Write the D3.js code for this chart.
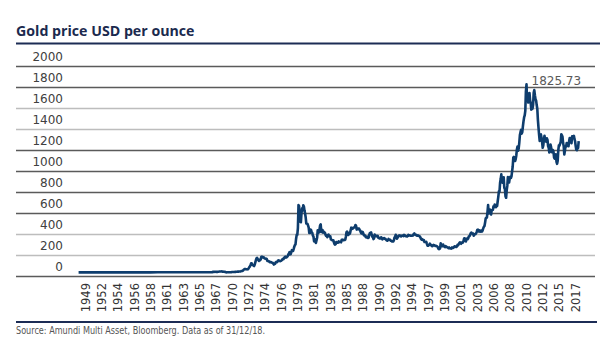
<!DOCTYPE html>
<html>
<head>
<meta charset="utf-8">
<script src="https://cdn.jsdelivr.net/npm/d3@7"></script>
<style>
  html, body { margin: 0; padding: 0; background: #fff; }
  svg { display: block; }
</style>
</head>
<body>
<svg id="chart" width="614" height="341"></svg>
<script>
// ---------------- DATA ----------------
const titleText = "Gold price USD per ounce";
const sourceText = "Source: Amundi Multi Asset, Bloomberg. Data as of 31/12/18.";

const yTickValues = [0, 200, 400, 600, 800, 1000, 1200, 1400, 1600, 1800, 2000];

const xTickLabels = ["1949","1952","1954","1956","1958","1961","1963","1965","1967","1970",
  "1972","1974","1976","1979","1981","1983","1985","1988","1990","1992","1994","1997",
  "1999","2001","2003","2006","2008","2010","2012","2015","2017"];

// Annual prices 1949-1967 (fixed-price era)
const annualYears = [1949,1950,1951,1952,1953,1954,1955,1956,1957,1958,1959,1960,1961,1962,1963,1964,1965,1966,1967];
const annualPrices = [34.8,35.0,35.0,35.0,35.0,35.0,35.0,35.0,35.0,35.0,35.0,35.5,35.3,35.2,35.1,35.1,35.2,35.2,35.2];

// Monthly prices, by period
const prices1968to1979 = [
  35.2,37.6,41.0,38.0,41.0,41.1,39.5,39.2,40.0,39.2,40.5,41.1,
  42.3,42.6,43.5,43.3,43.6,41.3,42.0,41.0,40.9,40.4,37.4,35.2,
  34.9,35.0,35.1,35.6,35.9,35.4,35.3,35.4,36.2,37.5,37.4,37.4,
  37.9,38.7,38.9,39.0,40.5,40.1,41.0,42.7,42.0,42.5,42.9,43.5,
  45.8,48.3,48.3,49.0,54.6,62.1,65.7,67.0,65.5,64.9,62.9,63.9,
  65.1,74.2,84.4,90.5,102.0,120.1,120.2,106.8,103.0,100.1,94.8,106.7,
  129.2,150.2,168.4,172.2,163.3,154.1,143.0,154.6,151.8,158.8,181.7,183.9,
  176.3,179.6,178.0,170.0,167.0,164.2,165.2,163.0,144.1,142.8,142.8,139.3,
  131.4,130.9,132.7,128.0,127.0,125.7,117.8,109.3,114.0,116.0,130.3,133.8,
  132.3,136.4,148.4,149.3,146.6,141.1,143.4,144.8,149.2,158.6,162.3,160.5,
  173.2,178.2,183.7,175.3,176.3,183.7,188.7,206.2,212.4,227.2,206.1,207.8,
  227.3,245.7,242.0,239.2,257.6,279.1,294.7,300.8,355.1,391.7,392.5,455.1
];
const prices1980to1989 = [
  675,665,554,517,513,600,645,627,674,662,623,595,
  557,500,499,496,480,461,409,410,443,437,413,410,
  384,374,330,350,334,315,339,364,435,422,414,444,
  481,491,420,432,438,413,422,416,412,394,382,388,
  370,386,394,381,377,378,348,348,341,340,341,320,
  303,299,304,324,316,317,317,330,323,326,325,321,
  345,339,346,340,342,343,348,376,418,423,398,391,
  408,401,409,438,460,449,450,460,460,465,467,486,
  477,442,444,452,451,451,437,431,413,406,420,419,
  404,388,390,384,371,367,375,365,362,367,394,409
];
const prices1990to1999 = [
  410,416,393,374,369,352,362,395,389,380,381,378,
  383,364,363,358,357,367,368,356,349,358,360,361,
  354,354,345,338,337,341,353,343,345,344,335,334,
  329,329,330,342,367,372,392,378,355,364,374,383,
  387,382,384,377,381,386,385,380,391,389,384,379,
  379,376,382,391,385,387,386,383,383,383,386,387,
  400,405,396,393,392,385,383,387,383,381,378,369,
  355,347,352,344,344,341,324,324,323,325,306,289,
  289,297,296,308,299,292,293,284,289,296,294,291,
  287,287,286,282,277,262,256,257,265,311,293,284
];
const prices2000to2009 = [
  284,300,286,280,275,285,282,275,273,270,266,272,
  266,262,263,261,272,270,268,273,283,283,276,276,
  282,296,294,302,314,321,314,307,319,317,319,333,
  357,359,341,329,355,356,351,360,379,379,389,407,
  414,405,406,404,384,392,398,400,406,420,439,442,
  424,423,434,429,422,431,424,437,456,470,476,510,
  549,555,557,610,676,596,633,632,598,585,627,629,
  631,664,655,680,668,655,665,665,712,754,806,803,
  889,923,968,909,888,889,939,839,829,760,745,816,
  858,943,924,890,928,945,934,949,996,1043,1127,1134
];
const prices2010to2018 = [
  1118,1095,1113,1148,1205,1232,1193,1215,1271,1343,1370,1391,
  1356,1372,1424,1473,1510,1529,1572,1756,1825.73,1666,1739,1652,
  1656,1742,1673,1650,1585,1596,1594,1630,1744,1771,1722,1684,
  1671,1628,1593,1487,1414,1343,1286,1347,1349,1316,1275,1221,
  1244,1300,1336,1299,1287,1279,1311,1296,1238,1222,1176,1200,
  1251,1227,1179,1198,1199,1181,1128,1117,1125,1159,1086,1068,
  1097,1199,1245,1242,1260,1276,1350,1340,1326,1266,1238,1157,
  1192,1234,1231,1266,1246,1260,1236,1283,1314,1280,1283,1265,
  1331,1331,1324,1335,1303,1282,1238,1202,1198,1215,1221,1285
];

// ---------------- BUILD SERIES ----------------
const series = [];
annualYears.forEach((yr, i) => series.push({ t: yr + 0.5, v: annualPrices[i] }));
[[1968, prices1968to1979], [1980, prices1980to1989], [1990, prices1990to1999],
 [2000, prices2000to2009], [2010, prices2010to2018]].forEach(([start, arr]) => {
  arr.forEach((v, i) => series.push({ t: start + i / 12 + 1 / 24, v }));
});

// ---------------- DRAW ----------------
const svg = d3.select("#chart");
const navy = "#1c2c55";
const lineColor = "#0e3d6d";

const x = d3.scaleLinear().domain([1949, 2019]).range([75, 579]);
const y = d3.scaleLinear().domain([0, 2000]).range([276, 66]);
const xLab = d3.scalePoint().domain(xTickLabels).range([85, 575]);

// Title
svg.append("text")
  .attr("x", 16).attr("y", 36)
  .attr("font-family", "'Open Sans', sans-serif")
  .attr("font-weight", 700)
  .attr("font-size", 14.2)
  .attr("fill", "#1b2a4e")
  .text(titleText);

svg.append("line")
  .attr("x1", 16).attr("x2", 600).attr("y1", 43.5).attr("y2", 43.5)
  .attr("stroke", navy).attr("stroke-width", 2);

// Gridlines
const lightSet = new Set([200, 400, 1400, 1600]);
svg.append("g").selectAll("line").data(yTickValues).join("line")
  .attr("x1", 16).attr("x2", 595)
  .attr("y1", d => Math.round(y(d)) + 0.5).attr("y2", d => Math.round(y(d)) + 0.5)
  .attr("stroke", d => lightSet.has(d) ? "#bdbdbd" : "#5a5a5a")
  .attr("stroke-width", 1.6);

// Y labels (sit between gridlines)
svg.append("g").selectAll("text").data(yTickValues).join("text")
  .attr("x", 63)
  .attr("y", d => y(d) - 9)
  .attr("dy", "0.35em")
  .attr("text-anchor", "end")
  .attr("font-family", "'DejaVu Sans', Verdana, sans-serif")
  .attr("font-size", 12)
  .attr("fill", "#404040")
  .text(d => d);

// X axis labels
const xAxis = d3.axisBottom(xLab).tickSize(0).tickPadding(0);
const gx = svg.append("g").attr("transform", "translate(0,283)").call(xAxis);
gx.select(".domain").remove();
gx.selectAll("text")
  .attr("font-family", "'DejaVu Sans', Verdana, sans-serif")
  .attr("font-size", 11.5)
  .attr("fill", "#333")
  .attr("text-anchor", "end")
  .attr("transform", "rotate(-90)")
  .attr("x", 0).attr("y", 0)
  .attr("dy", "0.35em");

// Line
const line = d3.line().x(d => x(d.t)).y(d => y(d.v));
svg.append("path")
  .datum(series)
  .attr("d", line)
  .attr("fill", "none")
  .attr("stroke", lineColor)
  .attr("stroke-width", 2.6)
  .attr("stroke-linejoin", "round");

// Peak annotation
const peak = series.reduce((a, b) => (b.v > a.v ? b : a));
svg.append("text")
  .attr("x", x(peak.t) + 5)
  .attr("y", y(peak.v) + 1)
  .attr("font-family", "'DejaVu Sans', Verdana, sans-serif")
  .attr("font-size", 12)
  .attr("fill", "#595959")
  .text(d3.format(".2f")(peak.v));

// Bottom rule + source
svg.append("line")
  .attr("x1", 16).attr("x2", 597).attr("y1", 322).attr("y2", 322)
  .attr("stroke", navy).attr("stroke-width", 2);

svg.append("text")
  .attr("transform", "translate(16,334) scale(0.86,1)")
  .attr("font-family", "'Liberation Sans Narrow', 'DejaVu Sans Condensed', 'Roboto Condensed', sans-serif")
  .attr("font-stretch", "condensed")
  .attr("font-size", 10.5)
  .attr("fill", "#555")
  .text(sourceText);
</script>
</body>
</html>
